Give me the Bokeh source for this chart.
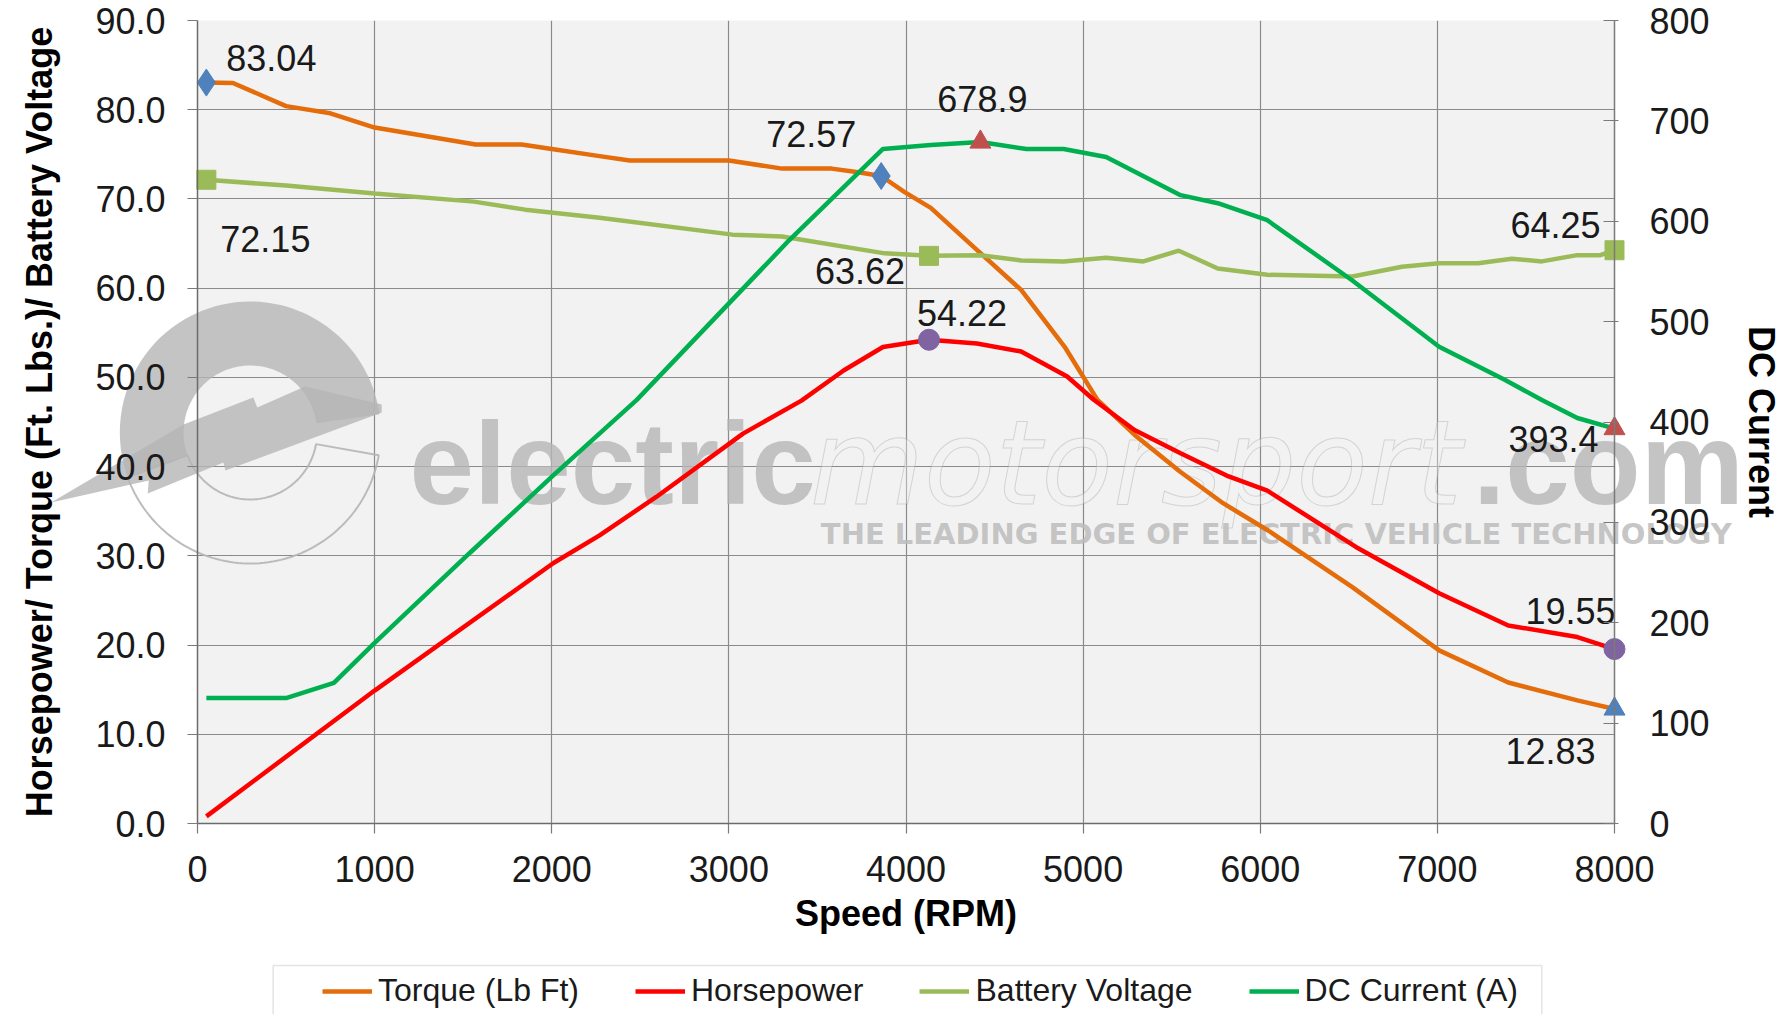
import numpy as np
from bokeh.plotting import figure
from bokeh.layouts import column
from bokeh.models import (Range1d, LinearAxis, Legend, LegendItem, FixedTicker,
                          PrintfTickFormatter, BoxAnnotation)
from bokeh.core.properties import value
from bokeh.embed import file_html
from bokeh.resources import INLINE

# ---------------- data ----------------
x_ticks = [0, 1000, 2000, 3000, 4000, 5000, 6000, 7000, 8000]
left_ticks = [0, 10, 20, 30, 40, 50, 60, 70, 80, 90]
right_ticks = [0, 100, 200, 300, 400, 500, 600, 700, 800]

rpm_torque = [50, 200, 500, 750, 1000, 1570, 1830, 2000, 2270, 2440, 3000, 3300, 3580, 3730,
              3860, 3990, 4140, 4400, 4650, 4900, 5080, 5300, 5550, 5790, 6040, 6520, 7010,
              7400, 7790, 8000]
torque = [83.04, 83.0, 80.4, 79.6, 78.0, 76.1, 76.1, 75.6, 74.8, 74.3, 74.3, 73.4, 73.4, 73.0,
          72.57, 70.8, 69.0, 64.3, 59.8, 53.3, 47.5, 43.4, 39.4, 35.9, 32.9, 26.5, 19.4,
          15.8, 13.8, 12.83]

rpm_hp = [50, 1000, 2010, 2270, 2590, 3080, 3410, 3650, 3870, 4130, 4400, 4650, 4910, 5060,
          5290, 5550, 5810, 6040, 6540, 7010, 7400, 7790, 8000]
hp = [0.8, 14.9, 29.2, 32.3, 36.6, 43.7, 47.4, 50.8, 53.4, 54.22, 53.8, 52.9, 50.1, 47.5,
      44.1, 41.5, 39.0, 37.3, 31.0, 25.8, 22.2, 20.9, 19.55]

rpm_volt = [50, 500, 1000, 1560, 1850, 2270, 3020, 3300, 3880, 4130, 4420, 4650, 4890, 5130,
            5340, 5540, 5760, 6040, 6520, 6800, 7010, 7230, 7420, 7590, 7790, 7920, 8000]
volt = [72.15, 71.5, 70.6, 69.7, 68.8, 67.9, 66.0, 65.8, 63.9, 63.62, 63.7, 63.1, 63.0, 63.4,
        63.0, 64.2, 62.2, 61.5, 61.3, 62.4, 62.8, 62.8, 63.3, 63.0, 63.7, 63.7, 64.25]

rpm_current = [50, 500, 770, 1000, 1540, 2010, 2480, 3340, 3870, 4140, 4420, 4680, 4890, 5130,
               5550, 5760, 6040, 6520, 7010, 7380, 7590, 7790, 8000]
current = [125, 125, 140, 180, 270, 347, 422, 581, 672, 676, 678.9, 672, 672, 664,
           626, 618, 601, 541, 475, 442, 422, 404, 393.4]

torque_mark_rpm = [50, 3860, 8000]
torque_mark_val = [83.04, 72.57, 12.83]
hp_mark_rpm = [4130, 8000]
hp_mark_val = [54.22, 19.55]
volt_mark_rpm = [50, 4130, 8000]
volt_mark_val = [72.15, 63.62, 64.25]
current_mark_rpm = [4420, 8000]
current_mark_val = [678.9, 393.4]

series_names = ["Torque (Lb Ft)", "Horsepower", "Battery Voltage", "DC Current (A)"]

# ---------------- style ----------------
FONT = "Liberation Sans"
C_TORQUE = "#e46c0a"
C_HP = "#ff0000"
C_VOLT = "#9bbb59"
C_CURR = "#00b050"
series_colors = [C_TORQUE, C_HP, C_VOLT, C_CURR]
M_BLUE = "#4f81bd"
M_PURPLE = "#8064a2"
M_RED = "#c0504d"
GRID = "#8a8a8a"
TXT = "#1a1a1a"
LW = 4.5

W = 1784
H_MAIN = 955
H_LEG = 59
FRAME_L, FRAME_R = 197, 1620
FRAME_T, FRAME_B = 20, 823

p = figure(width=W, height=H_MAIN, output_backend="svg", toolbar_location=None,
           x_range=Range1d(0, 8000), y_range=Range1d(0, 90),
           min_border_left=FRAME_L, min_border_right=W - FRAME_R, min_border_top=FRAME_T,
           min_border_bottom=H_MAIN - FRAME_B,
           background_fill_color="#f2f2f2", border_fill_color="white")
p.outline_line_color = None
p.extra_y_ranges = {"current": Range1d(0, 800)}

# axes
xa = p.xaxis[0]
xa.ticker = FixedTicker(ticks=x_ticks)
xa.axis_label = "Speed (RPM)"
ya = p.yaxis[0]
ya.ticker = FixedTicker(ticks=left_ticks)
ya.formatter = PrintfTickFormatter(format="%.1f")
ya.axis_label = "Horsepower/ Torque (Ft. Lbs.)/ Battery Voltage"
ra = LinearAxis(y_range_name="current", ticker=FixedTicker(ticks=right_ticks),
                axis_label="DC Current")
p.add_layout(ra, "right")

for ax in (xa, ya, ra):
    ax.major_label_text_font = FONT
    ax.major_label_text_font_size = "36px"
    ax.major_label_text_color = TXT
    ax.axis_label_text_font = FONT
    ax.axis_label_text_font_size = "36px"
    ax.axis_label_text_font_style = "bold"
    ax.axis_label_text_color = "#000000"
    ax.axis_line_color = "#6b6b6b"
    ax.axis_line_width = 1.5
    ax.major_tick_line_color = "#7a7a7a"
    ax.major_tick_line_width = 1.2
    ax.minor_tick_line_color = None
    ax.level = "overlay"

xa.major_tick_in = 0
xa.major_tick_out = 10
xa.major_label_standoff = 22
xa.axis_label_standoff = 8
ya.major_tick_in = 0
ya.major_tick_out = 10
ya.major_label_standoff = 22
ya.axis_label_standoff = 32
ra.major_tick_in = 11
ra.major_tick_out = 4
ra.major_label_standoff = 31
ra.axis_label_standoff = 28
ra.axis_line_color = "#7a7a7a"

p.xgrid.ticker = FixedTicker(ticks=x_ticks)
p.ygrid.ticker = FixedTicker(ticks=left_ticks)
for g in (p.xgrid, p.ygrid):
    g.grid_line_color = GRID
    g.grid_line_width = 1.2

# ---------------- watermark (decoration, page-pixel geometry) ----------------
def px2x(px):
    return (px - FRAME_L) * 8000 / (FRAME_R - FRAME_L)

def px2y(py):
    return (FRAME_B - py) * 90 / (FRAME_B - FRAME_T)

WM = "#b5b5b5"
WL = "annotation"
cx, cy, r_out, r_in = 250, 432, 131, 67
t1 = np.radians(np.linspace(8, 200, 80))
ring_x = [px2x(cx + r_out * np.cos(t)) for t in t1] + [px2x(cx + r_in * np.cos(t)) for t in t1[::-1]]
ring_y = [px2y(cy - r_out * np.sin(t)) for t in t1] + [px2y(cy - r_in * np.sin(t)) for t in t1[::-1]]
p.patch(ring_x, ring_y, fill_color=WM, fill_alpha=0.8, line_color=None, level=WL)

t2 = np.radians(np.linspace(200, 350, 80))
out_x = [px2x(cx + r_out * np.cos(t)) for t in t2] + [px2x(cx + r_in * np.cos(t)) for t in t2[::-1]]
out_y = [px2y(cy - r_out * np.sin(t)) for t in t2] + [px2y(cy - r_in * np.sin(t)) for t in t2[::-1]]
out_x.append(out_x[0])
out_y.append(out_y[0])
p.line(out_x, out_y, line_color=WM, line_width=2, line_alpha=0.9, level=WL)

bolt_px = [(382, 404), (305, 386), (257, 407), (253, 397), (183, 424), (50, 502),
           (148, 480), (147, 493), (223, 462), (225, 470), (382, 412)]
p.patch([px2x(a) for a, b in bolt_px], [px2y(b) for a, b in bolt_px],
        fill_color=WM, fill_alpha=0.8, line_color=None, level=WL)

p.text([px2x(410)], [px2y(463)], text=["electric"], text_font=value(FONT),
       text_font_style="bold", text_font_size="116px", text_color=WM, text_alpha=0.8,
       text_baseline="alphabetic", level=WL)
p.text([px2x(812)], [px2y(463)], text=["motorsport"], text_font=value("DejaVu Sans"),
       text_font_style="italic", text_font_size="117px", text_color="#f4f4f4",
       text_alpha=0.35, text_outline_color="#9a9a9a", text_baseline="alphabetic", level=WL)
p.text([px2x(1478)], [px2y(463)], text=[".com"], text_font=value(FONT),
       text_font_style="bold", text_font_size="116px", text_color=WM, text_alpha=0.8,
       text_baseline="alphabetic", level=WL)
p.text([px2x(823)], [px2y(533)], text=["THE LEADING EDGE OF ELECTRIC VEHICLE TECHNOLOGY"],
       text_font=value("DejaVu Sans"), text_font_style="bold", text_font_size="29px",
       text_color="#bcbcbc", text_alpha=0.85, text_baseline="alphabetic", level=WL)

# ---------------- series ----------------
r_t = p.line(rpm_torque, torque, line_color=C_TORQUE, line_width=LW, level="overlay")
r_h = p.line(rpm_hp, hp, line_color=C_HP, line_width=LW, level="overlay")
r_v = p.line(rpm_volt, volt, line_color=C_VOLT, line_width=LW, level="overlay")
r_c = p.line(rpm_current, current, line_color=C_CURR, line_width=LW, level="overlay",
             y_range_name="current")

# markers
p.scatter(torque_mark_rpm[:2], torque_mark_val[:2], marker="diamond", size=27, color=M_BLUE,
          level="overlay")
p.scatter(torque_mark_rpm[2:], torque_mark_val[2:], marker="triangle", size=21, color=M_BLUE,
          level="overlay")
p.scatter(hp_mark_rpm, hp_mark_val, marker="circle", size=21, color=M_PURPLE, level="overlay")
p.scatter(volt_mark_rpm, volt_mark_val, marker="square", size=19, color=C_VOLT,
          level="overlay")
p.scatter(current_mark_rpm, current_mark_val, marker="triangle", size=21, color=M_RED,
          level="overlay", y_range_name="current")

# value labels (offsets in screen px, +y = down)
def vlabel(xs, ys, offs, fmt, yr="default"):
    for x, y, (dx, dy) in zip(xs, ys, offs):
        p.text([x], [y], text=[fmt.format(y)], text_font=value(FONT), text_font_size="36px",
               text_color=TXT, text_align="center", text_baseline="middle",
               x_offset=dx, y_offset=dy, level="overlay", y_range_name=yr)

vlabel(torque_mark_rpm, torque_mark_val, [(65, -25), (-70, -42), (-64, 42)], "{:.2f}")
vlabel(hp_mark_rpm, hp_mark_val, [(33, -27), (-44, -38)], "{:.2f}")
vlabel(volt_mark_rpm, volt_mark_val, [(59, 59), (-69, 15), (-59, -25)], "{:.2f}")
vlabel(current_mark_rpm, current_mark_val, [(2, -43), (-61, 10)], "{:.1f}", yr="current")

# ---------------- legend strip (below the chart; frame aligned with the chart) ----------------
lg = figure(width=W, height=H_LEG, output_backend="svg", toolbar_location=None,
            x_range=Range1d(FRAME_L, FRAME_R), y_range=Range1d(0, H_LEG),
            min_border_left=FRAME_L, min_border_right=W - FRAME_R,
            min_border_top=0, min_border_bottom=0,
            x_axis_type=None, y_axis_type=None,
            background_fill_color="white", border_fill_color="white")
lg.outline_line_color = None
lg.grid.visible = False
lg.add_layout(BoxAnnotation(left=273, right=1547, top=H_LEG - 10, bottom=-20,
                            fill_color="white", fill_alpha=1,
                            line_color="#a6a6a6", line_width=1.5))
# style-only proxies for the legend swatches (placed outside the visible range)
proxies = [lg.line([-5000, -4999], [-5000, -4999], line_color=c, line_width=LW)
           for c in series_colors]
LEG_PAD = 7
legend = Legend(items=[LegendItem(label=n, renderers=[r]) for n, r in zip(series_names, proxies)],
                orientation="horizontal", location=(329 - FRAME_L - LEG_PAD, 5),
                label_text_font=FONT, label_text_font_size="32px", label_text_color=TXT,
                glyph_width=50, glyph_height=20, label_standoff=6, spacing=56,
                padding=LEG_PAD, label_height=34, margin=0,
                border_line_color=None, background_fill_alpha=0)
lg.add_layout(legend, "center")

open("out.html", "w").write(file_html(column(p, lg, spacing=0), INLINE))
